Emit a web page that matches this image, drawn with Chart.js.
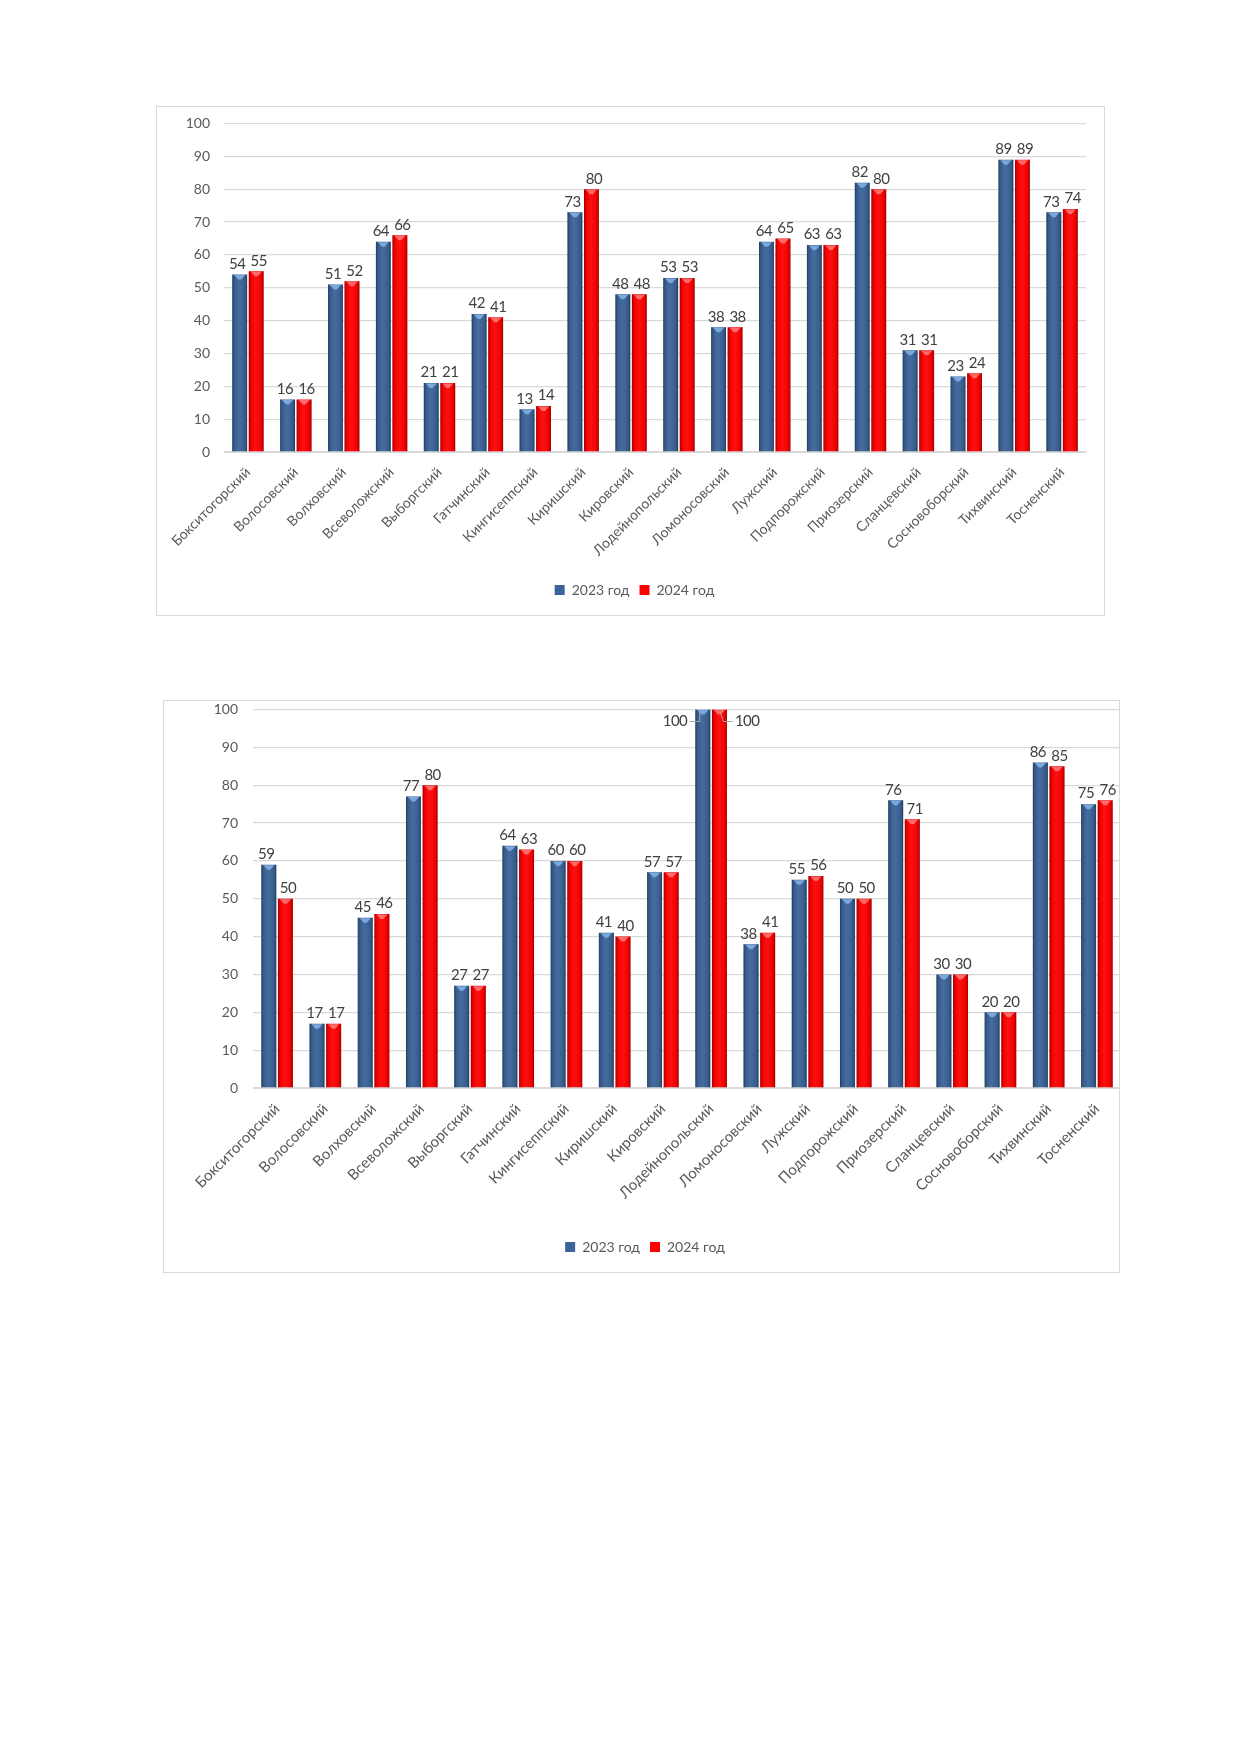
<!DOCTYPE html>
<html>
<head>
<meta charset="utf-8">
<script src="https://cdn.jsdelivr.net/npm/chart.js@4.4.1/dist/chart.umd.min.js"></script>
<style>
  body { margin: 0; background: #fff; }
  .frame { position: absolute; box-sizing: border-box; border: 1.5px solid #d9d9d9; background: #fff; overflow: hidden; }
  #f1 { left: 156px; top: 106px; width: 949px; height: 510px; }
  #f2 { left: 163px; top: 700px; width: 957px; height: 573px; }
  .box { position: absolute; left: 0; top: 0; height: 100%; }
  #b1 { width: 100%; }
  #b2 { width: 957px; }
</style>
</head>
<body>
<div class="frame" id="f1"><div class="box" id="b1"><canvas id="c1"></canvas></div></div>
<div class="frame" id="f2"><div class="box" id="b2"><canvas id="c2"></canvas></div></div>
<script>
// districts of the Leningrad region
const districts = [
    'Бокситогорский', 'Волосовский', 'Волховский', 'Всеволожский', 'Выборгский',
    'Гатчинский', 'Кингисеппский', 'Киришский', 'Кировский', 'Лодейнопольский',
    'Ломоносовский', 'Лужский', 'Подпорожский', 'Приозерский', 'Сланцевский',
    'Сосновоборский', 'Тихвинский', 'Тосненский'
];
const seriesNames = ['2023 год', '2024 год'];

// upper chart
const top2023 = [54, 16, 51, 64, 21, 42, 13, 73, 48, 53, 38, 64, 63, 82, 31, 23, 89, 73];
const top2024 = [55, 16, 52, 66, 21, 41, 14, 80, 48, 53, 38, 65, 63, 80, 31, 24, 89, 74];

// lower chart
const bottom2023 = [59, 17, 45, 77, 27, 64, 60, 41, 57, 100, 38, 55, 50, 76, 30, 20, 86, 75];
const bottom2024 = [50, 17, 46, 80, 27, 63, 60, 40, 57, 100, 41, 56, 50, 71, 30, 20, 85, 76];

const yMin = 0, yMax = 100, yStep = 10;

const FONT = 'Lato, "Open Sans", sans-serif';

// shading, top highlight and value labels on every bar
const barDeco = {
    id: 'barDeco',
    afterDatasetsDraw(chart) {
        const ctx = chart.ctx;
        ctx.save();
        chart.data.datasets.forEach((ds, di) => {
            const meta = chart.getDatasetMeta(di);
            meta.data.forEach((bar, i) => {
                const p = bar.getProps(['x', 'y', 'base', 'width'], true);
                const left = p.x - p.width / 2;
                const right = p.x + p.width / 2;
                const g = ctx.createLinearGradient(left, 0, right, 0);
                g.addColorStop(0, 'rgba(0,0,0,0.38)');
                g.addColorStop(0.14, 'rgba(0,0,0,0.08)');
                g.addColorStop(0.45, 'rgba(255,255,255,0.06)');
                g.addColorStop(0.86, 'rgba(0,0,0,0.08)');
                g.addColorStop(1, 'rgba(0,0,0,0.4)');
                ctx.fillStyle = g;
                ctx.fillRect(left, p.y, p.width, p.base - p.y);

                ctx.fillStyle = ds.highlight;
                ctx.beginPath();
                ctx.moveTo(left + 2, p.y + 0.5);
                ctx.lineTo(right - 2, p.y + 0.5);
                ctx.lineTo(p.x + 1.5, p.y + 5);
                ctx.lineTo(p.x - 1.5, p.y + 5);
                ctx.closePath();
                ctx.fill();

                const v = ds.data[i];
                const shift = di === 0 ? -2.5 : 2.5;
                ctx.font = '15px ' + FONT;
                ctx.letterSpacing = '-0.5px';
                ctx.fillStyle = '#404040';
                if (v >= yMax) {
                    // bar reaches the top: label goes to the side with a leader line
                    const ly = p.y + 12;
                    ctx.strokeStyle = '#a6a6a6';
                    ctx.lineWidth = 1;
                    ctx.beginPath();
                    ctx.textBaseline = 'middle';
                    if (di === 0) {
                        ctx.textAlign = 'right';
                        ctx.fillText(String(v), left - 8, ly);
                        ctx.moveTo(left - 6, ly);
                        ctx.lineTo(p.x - 3, ly);
                        ctx.lineTo(p.x - 3, p.y + 3);
                    } else {
                        ctx.textAlign = 'left';
                        ctx.fillText(String(v), right + 8, ly);
                        ctx.moveTo(right + 6, ly);
                        ctx.lineTo(p.x + 4, ly);
                        ctx.lineTo(p.x + 1, p.y + 3);
                    }
                    ctx.stroke();
                } else {
                    ctx.textAlign = 'center';
                    ctx.textBaseline = 'bottom';
                    ctx.fillText(String(v), p.x + shift, p.y - 3);
                }
            });
        });
        ctx.restore();
    }
};

function makeChart(id, d2023, d2024, geo) {
    const yTicks = [];
    for (let t = yMin; t <= yMax; t += yStep) yTicks.push(t);

    return new Chart(document.getElementById(id), {
        type: 'bar',
        data: {
            labels: districts,
            datasets: [{
                label: seriesNames[0],
                data: d2023,
                backgroundColor: '#3a6397',
                highlight: '#7aa7dc',
                categoryPercentage: 0.69,
                barPercentage: 0.9
            }, {
                label: seriesNames[1],
                data: d2024,
                backgroundColor: '#ff0000',
                highlight: '#ff6a6a',
                categoryPercentage: 0.69,
                barPercentage: 0.9
            }]
        },
        options: {
            responsive: true,
            maintainAspectRatio: false,
            animation: false,
            layout: { padding: geo.padding },
            scales: {
                x: {
                    grid: { display: false },
                    border: { color: '#d9d9d9' },
                    ticks: {
                        font: { family: FONT, size: geo.catSize },
                        color: '#595959',
                        minRotation: 45,
                        maxRotation: 45,
                        autoSkip: false,
                        padding: 4
                    },
                    afterFit: s => { s.height = geo.xHeight; }
                },
                y: {
                    min: yMin,
                    max: yMax,
                    afterBuildTicks: s => { s.ticks = yTicks.map(v => ({ value: v })); },
                    // tick marks are invisible, their length only keeps the labels off the plot
                    grid: { color: '#d9d9d9', lineWidth: 1.3, drawTicks: true, tickLength: geo.yGap, tickColor: 'rgba(0,0,0,0)' },
                    border: { display: false },
                    ticks: {
                        font: { family: FONT, size: 14 },
                        color: '#595959',
                        padding: 0
                    },
                    afterFit: s => { s.width = geo.yWidth; }
                }
            },
            plugins: {
                legend: {
                    position: 'bottom',
                    labels: {
                        boxWidth: 10,
                        boxHeight: 10,
                        font: { family: FONT, size: 14 },
                        color: '#595959',
                        padding: 10
                    }
                },
                tooltip: { enabled: false }
            }
        },
        plugins: [barDeco]
    });
}

makeChart('c1', top2023, top2024, {
    padding: { top: 16.5, right: 18, left: 26, bottom: 8 },
    yWidth: 41, yGap: 14, xHeight: 121, catSize: 14
});
makeChart('c2', bottom2023, bottom2024, {
    padding: { top: 8.5, right: 0, left: 5, bottom: 8 },
    yWidth: 84, yGap: 15, xHeight: 142, catSize: 15
});
</script>
</body>
</html>
